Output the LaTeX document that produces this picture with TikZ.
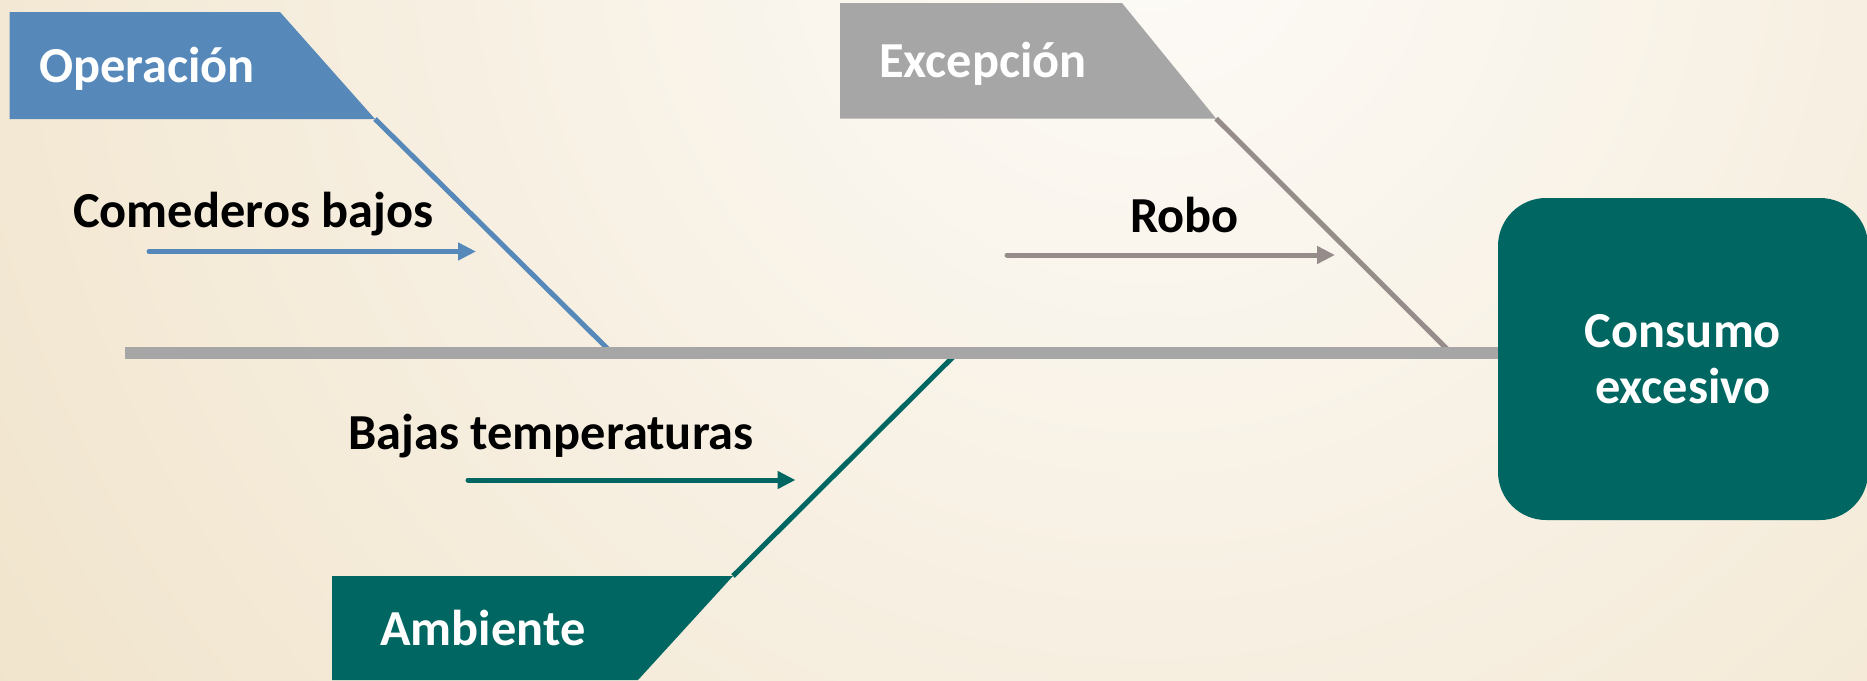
\documentclass[tikz,border=0pt]{standalone}
\usepackage{fontspec}
\setmainfont{Carlito}
\usetikzlibrary{arrows.meta}
\definecolor{opblue}{HTML}{5689B9}
\definecolor{exgray}{HTML}{A6A6A6}
\definecolor{exline}{HTML}{968D8B}
\definecolor{amteal}{HTML}{006661}
\definecolor{spinegray}{HTML}{A6A6A6}
\definecolor{bgin}{HTML}{FDFBF8}
\definecolor{bgout}{HTML}{E7D2A9}
\begin{document}
\begin{tikzpicture}[x=1pt,y=-1pt,
  lbl/.style={font=\fontsize{50.4}{55}\selectfont\bfseries, inner sep=0pt, anchor=base west},
  catlbl/.style={lbl, text=white},
  causelbl/.style={lbl, text=black},
  branch/.style={line width=5pt},
  causearrow/.style={line width=5pt, line cap=round, -{Triangle[length=18pt,width=17pt]}},
  effectbox/.style={fill=amteal, rounded corners=48pt, minimum width=370pt, minimum height=322pt,
    inner sep=0pt, text=white, align=center, font=\fontsize{50.4}{56}\selectfont\bfseries}]
\useasboundingbox (0,0) rectangle (1867,680);
\begin{scope}
\clip (0,0) rectangle (1867,680);
\fill[bgout] (0,0) rectangle (1867,680);
\shade[inner color=bgin, outer color=bgout] (1150,-80) circle (2500);

% category shapes
\fill[opblue] (9.5,12) -- (280,12) -- (375,119) -- (9.5,119) -- cycle;
\fill[exgray] (840,3) -- (1122,3) -- (1216,118.5) -- (840,118.5) -- cycle;
\fill[amteal] (332,576) -- (733,576) -- (638,680) -- (332,680) -- cycle;

% branch coordinates
\coordinate (opA) at (375,119);
\coordinate (opB) at (611,352);
\coordinate (exA) at (1216,118.5);
\coordinate (exB) at (1450,352);
\coordinate (amA) at (733,576);
\coordinate (amB) at (958,352);

\draw[branch, opblue] (opA) -- (opB);
\draw[branch, exline] (exA) -- (exB);
\draw[branch, amteal] (amA) -- (amB);

% effect box
\node[effectbox] (effect) at (1683,359) {Consumo\\excesivo};

% spine
\coordinate (spineL) at (125,352.5);
\draw[line width=12pt, spinegray] (spineL) -- (effect.west |- spineL);

% category labels
\node[catlbl] (op) at (39,82) {Operación};
\node[catlbl] (ex) at (879,77) {Excepción};
\node[catlbl] (am) at (380,645) {Ambiente};

% cause labels
\node[causelbl] (c1) at (73,227) {Comederos bajos};
\node[causelbl] (c2) at (1130,232) {Robo};
\node[causelbl] (c3) at (348,449) {Bajas temperaturas};

% cause arrows
\coordinate (a1s) at (149,251.5);
\coordinate (a1e) at (476,251.5);
\coordinate (a2s) at (1007,255);
\coordinate (a2e) at (1335,255);
\coordinate (a3s) at (468,480);
\coordinate (a3e) at (795.5,480);
\draw[causearrow, opblue] (a1s) -- (a1e);
\draw[causearrow, exline] (a2s) -- (a2e);
\draw[causearrow, amteal] (a3s) -- (a3e);
\end{scope}
\end{tikzpicture}
\end{document}
